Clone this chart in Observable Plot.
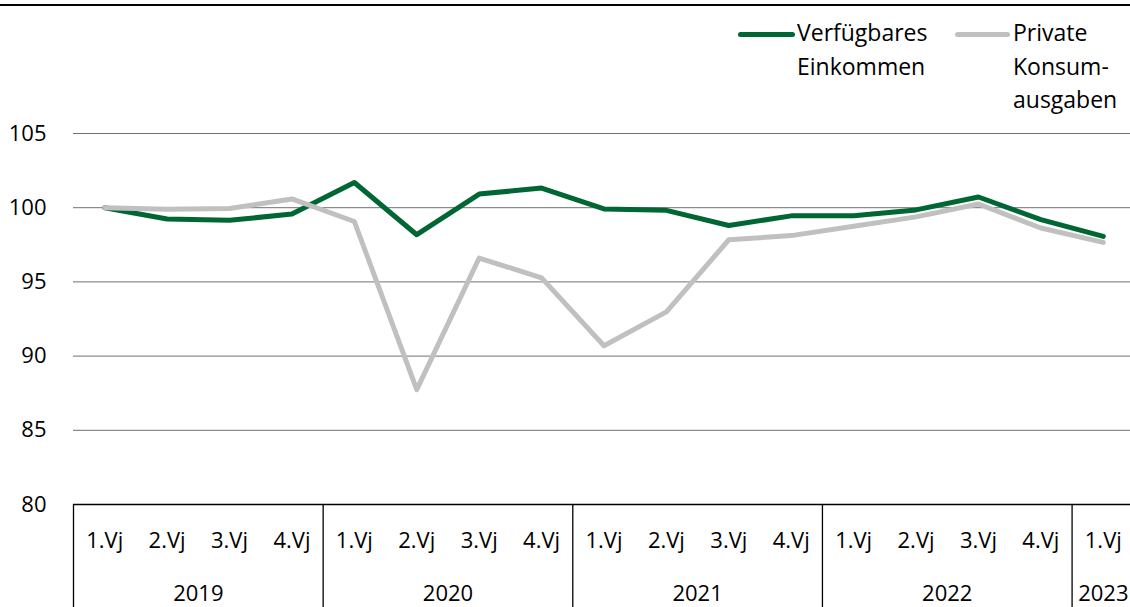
<!DOCTYPE html>
<html>
<head>
<meta charset="utf-8">
<script src="https://cdn.jsdelivr.net/npm/d3@7"></script>
<script src="https://cdn.jsdelivr.net/npm/@observablehq/plot@0.6"></script>
<style>
  html, body { margin: 0; padding: 0; background: #fff; overflow: hidden; }
  #wrap { position: relative; width: 1130px; height: 607px; font-family: "Open Sans", sans-serif; color: #000; }
  #toprule { position: absolute; left: 0; top: 4px; width: 1130px; height: 0; border-top: 2.5px solid #000; }
  .leg { position: absolute; top: 17px; font-size: 23px; line-height: 33.5px; }
  .leg .sw { position: absolute; top: 14.5px; height: 5px; border-radius: 3px; }
  .leg .tx { position: absolute; top: -1px; white-space: nowrap; }
  #chart { position: absolute; left: 0; top: 0; }
</style>
</head>
<body>
<div id="wrap">
  <div id="chart"></div>
  <div id="toprule"></div>
  <div class="leg" style="left:738px">
    <div class="sw" style="left:0;width:57px;background:#006633"></div>
    <div class="tx" style="left:59px">Verfügbares<br>Einkommen</div>
  </div>
  <div class="leg" style="left:955px">
    <div class="sw" style="left:0;width:55px;background:#c0c0c0"></div>
    <div class="tx" style="left:58px">Private<br>Konsum-<br>ausgaben</div>
  </div>
</div>
<script>
const quarters = ["1.Vj","2.Vj","3.Vj","4.Vj","1.Vj","2.Vj","3.Vj","4.Vj","1.Vj","2.Vj","3.Vj","4.Vj","1.Vj","2.Vj","3.Vj","4.Vj","1.Vj"];
const years    = ["2019","2019","2019","2019","2020","2020","2020","2020","2021","2021","2021","2021","2022","2022","2022","2022","2023"];
const yearLabels = ["2019","2020","2021","2022","2023"];
const einkommen = [100.0, 99.24, 99.15, 99.57, 101.7, 98.18, 100.92, 101.32, 99.92, 99.82, 98.8, 99.45, 99.46, 99.85, 100.72, 99.2, 98.07];
const konsum    = [100.0, 99.9, 99.95, 100.59, 99.07, 87.74, 96.61, 95.27, 90.7, 92.98, 97.84, 98.12, 98.75, 99.38, 100.25, 98.63, 97.66];
const yTicks = [80, 85, 90, 95, 100, 105];

const data = quarters.map((q, i) => ({i, q, year: years[i], e: einkommen[i], k: konsum[i]}));
const yearCenters = yearLabels.map(y => d3.mean(data.filter(d => d.year === y), d => d.i));
const boundaries = yearLabels.map(y => d3.min(data.filter(d => d.year === y), d => d.i) - 0.5);

const chart = Plot.plot({
  width: 1130,
  height: 607,
  marginTop: 133,
  marginBottom: 103,
  marginLeft: 73,
  marginRight: 0,
  style: {fontFamily: "'Open Sans', sans-serif", fontSize: "22px", color: "#000", background: "transparent", overflow: "visible"},
  x: {type: "linear", domain: [-0.5, quarters.length - 0.5], range: [73, 1134]},
  y: {domain: [80, 105]},
  marks: [
    Plot.ruleY(yTicks.filter(t => t > 80), {stroke: "#707070", strokeWidth: 1}),
    Plot.ruleY([80], {stroke: "#000", strokeWidth: 1.5}),
    Plot.axisY({ticks: yTicks, tickSize: 0, tickPadding: 27, label: null, fontSize: 22}),
    Plot.axisX({ticks: data.map(d => d.i), tickSize: 0, tickPadding: 28, label: null, fontSize: 22, tickFormat: i => quarters[i]}),
    Plot.axisX({ticks: yearCenters, tickSize: 0, tickPadding: 81, label: null, fontSize: 22, tickFormat: (v, j) => yearLabels[j]}),
    Plot.axisX({ticks: boundaries, tickSize: 103, tickFormat: () => "", label: null, stroke: "#000", strokeWidth: 1.3}),
    Plot.line(data, {x: "i", y: "e", stroke: "#006633", strokeWidth: 5}),
    Plot.line(data, {x: "i", y: "k", stroke: "#c0c0c0", strokeWidth: 5})
  ]
});
document.getElementById("chart").appendChild(chart);
</script>
</body>
</html>
